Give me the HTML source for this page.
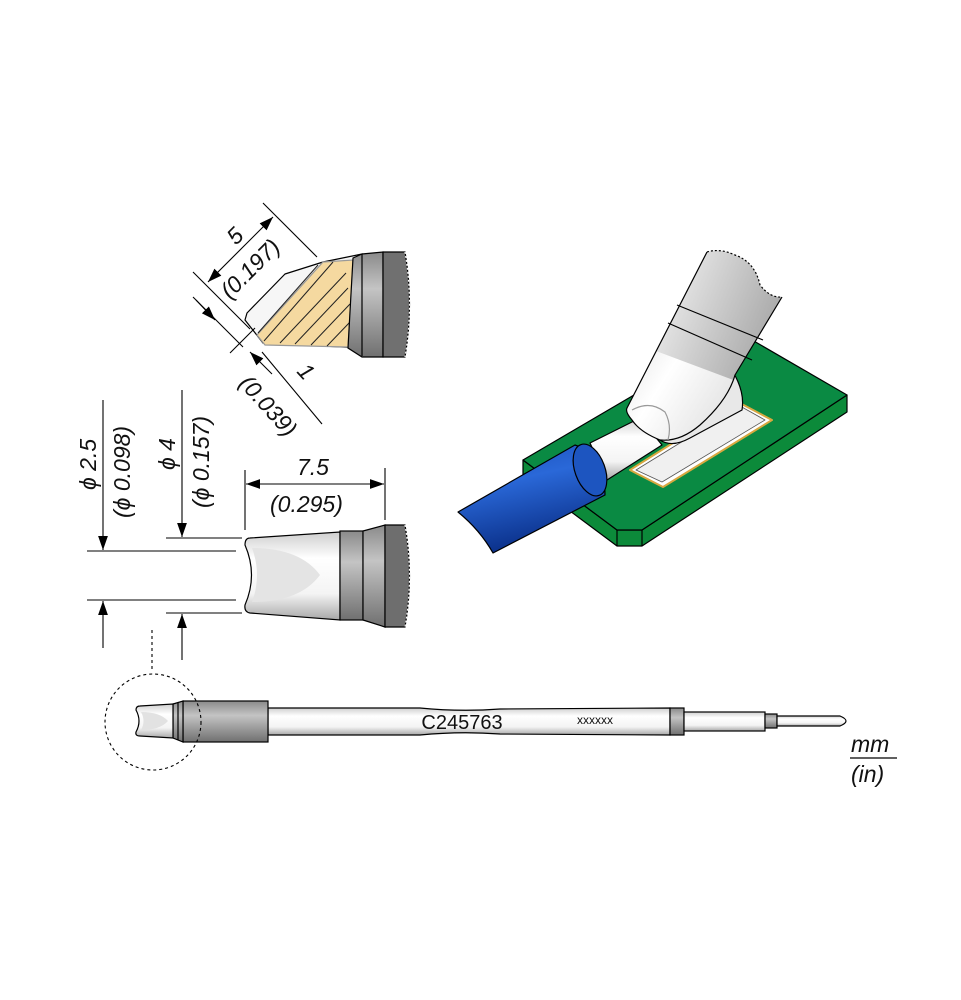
<!DOCTYPE html>
<html><head><meta charset="utf-8"><style>
html,body{margin:0;padding:0;background:#fff}
svg{display:block}
text{font-family:"Liberation Sans",sans-serif}
.dim{font-style:italic;font-size:23px;fill:#111}
</style></head><body>
<svg width="961" height="1000" viewBox="0 0 961 1000" xmlns="http://www.w3.org/2000/svg">
<defs>
<linearGradient id="gv" x1="0" y1="0" x2="0" y2="1">
<stop offset="0" stop-color="#8a8a8a"/><stop offset="0.35" stop-color="#c4c4c4"/><stop offset="1" stop-color="#707070"/></linearGradient>
<linearGradient id="wv" x1="0" y1="0" x2="0" y2="1">
<stop offset="0" stop-color="#cfcfcf"/><stop offset="0.3" stop-color="#fff"/><stop offset="0.7" stop-color="#f4f4f4"/><stop offset="1" stop-color="#a8a8a8"/></linearGradient>
<linearGradient id="bl" x1="0" y1="0" x2="0.3" y2="1">
<stop offset="0" stop-color="#1a4fb8"/><stop offset="0.4" stop-color="#2a68d8"/><stop offset="1" stop-color="#0a2f88"/></linearGradient>
<linearGradient id="tg" x1="0" y1="0" x2="1" y2="0.45">
<stop offset="0" stop-color="#8a8a8a"/><stop offset="0.4" stop-color="#e4e4e4"/><stop offset="1" stop-color="#9a9a9a"/></linearGradient>
<linearGradient id="tw" x1="0" y1="0" x2="1" y2="0.45">
<stop offset="0" stop-color="#d8d8d8"/><stop offset="0.4" stop-color="#ffffff"/><stop offset="1" stop-color="#d0d0d0"/></linearGradient>
<clipPath id="ic"><path d="M707,252 Q720,248 735,255 Q755,262 760,285 Q770,298 782,297 L735,375 Q728,400 700,425 Q680,442 660,440 Q640,432 632,420 Q625,412 627,408 Z"/></clipPath>
<marker id="a" viewBox="0 0 10 10" refX="10" refY="5" markerWidth="14" markerHeight="14" markerUnits="userSpaceOnUse" orient="auto-start-reverse"><path d="M0,1.5 L10,5 L0,8.5z" fill="#000"/></marker>
</defs>

<!-- ===== top tip ===== -->
<g stroke="#000" stroke-width="1.2">
<path d="M285,274 L323,262 L362,254 L362,348 L263,343 L245,320 L247,313 Z" fill="#f6f6f6"/>
<path d="M323,262 L353,260 L348,347 L265,345 L257,335 Z" fill="#f5d9a0" stroke="#999"/>
<g stroke="#222" stroke-width="1">
<line x1="280" y1="343" x2="346" y2="273"/><line x1="295" y1="344" x2="348" y2="288"/>
<line x1="311" y1="345" x2="350" y2="304"/><line x1="327" y1="346" x2="350" y2="322"/>
<line x1="264" y1="341" x2="333" y2="262"/><line x1="258" y1="333" x2="318" y2="265"/>
</g>
<path d="M353,258 L362,254 L383,252 L383,357 L362,357 L348,348 Z" fill="url(#gv)"/>
<line x1="362" y1="254" x2="362" y2="356"/>
<path d="M383,252 L405,252 Q414,304 405,357 L383,357 Z" fill="#707070"/>
<path d="M405,252 Q414,304 405,357" fill="none" stroke="#fff" stroke-dasharray="2 2"/>
</g>
<g stroke="#000" stroke-width="1.1" fill="none">
<line x1="263" y1="203" x2="317" y2="257"/>
<line x1="193" y1="272" x2="250" y2="329"/>
<line x1="208" y1="282" x2="273" y2="217" marker-start="url(#a)" marker-end="url(#a)"/>
<line x1="193" y1="297" x2="243" y2="347"/>
<line x1="230" y1="353" x2="255" y2="328"/>
<line x1="196" y1="300" x2="215" y2="320" marker-end="url(#a)"/>
<line x1="272" y1="374" x2="250" y2="352" marker-end="url(#a)"/>
<line x1="262" y1="352" x2="322" y2="424"/>
</g>
<text class="dim" transform="translate(236,246) rotate(-45)">5</text>
<text class="dim" transform="translate(230,300) rotate(-45)">(0.197)</text>
<text class="dim" transform="translate(296,372) rotate(48)">1</text>
<text class="dim" transform="translate(238,384) rotate(48)">(0.039)</text>

<!-- ===== middle tip ===== -->
<g stroke="#000" stroke-width="1.2">
<path d="M250,538 L340,532 L340,620 L250,613 Q244,612 245,605 Q258,575 245,545 Q245,538 250,538 Z" fill="url(#wv)"/>
<path d="M252,548 Q300,548 320,575 Q300,602 252,602 Q262,575 252,548Z" fill="#e4e4e4" stroke="none"/>
<rect x="340" y="531" width="23" height="89" fill="url(#gv)"/>
<path d="M363,531 L385,525 L385,627 L363,620 Z" fill="url(#gv)"/>
<path d="M385,525 L405,525 Q414,576 405,627 L385,627 Z" fill="#6e6e6e"/>
<path d="M405,525 Q414,576 405,627" fill="none" stroke="#fff" stroke-dasharray="2 2"/>
</g>
<g stroke="#000" stroke-width="1.1">
<line x1="103" y1="400" x2="103" y2="550" marker-end="url(#a)"/>
<line x1="103" y1="648" x2="103" y2="601" marker-end="url(#a)"/>
<line x1="87" y1="551" x2="236" y2="551"/><line x1="87" y1="600" x2="236" y2="600"/>
<line x1="182" y1="390" x2="182" y2="537" marker-end="url(#a)"/>
<line x1="182" y1="660" x2="182" y2="614" marker-end="url(#a)"/>
<line x1="166" y1="538" x2="242" y2="538"/><line x1="166" y1="613" x2="242" y2="613"/>
<line x1="245" y1="470" x2="245" y2="530"/><line x1="385" y1="468" x2="385" y2="520"/>
<line x1="246" y1="484" x2="384" y2="484" marker-start="url(#a)" marker-end="url(#a)"/>
<line x1="152" y1="630" x2="152" y2="672" stroke-dasharray="3 3"/>
</g>
<text class="dim" transform="translate(96,490) rotate(-90)">ϕ 2.5</text>
<text class="dim" transform="translate(130,518) rotate(-90)">(ϕ 0.098)</text>
<text class="dim" transform="translate(175,470) rotate(-90)">ϕ 4</text>
<text class="dim" transform="translate(209,508) rotate(-90)">(ϕ 0.157)</text>
<text class="dim" x="297" y="475">7.5</text>
<text class="dim" x="270" y="512">(0.295)</text>

<!-- ===== right illustration ===== -->
<g stroke="#000" stroke-width="1.2" stroke-linejoin="round">
<path d="M523,460 L523,476 L617,546 L642,546 L847,412 L847,395 L642,530 L617,530 Z" fill="#0c8a3a"/>
<path d="M523,460 L740,333 L847,395 L642,530 L617,530 Z" fill="#0a8a43"/>
<line x1="617" y1="530" x2="617" y2="546"/><line x1="642" y1="530" x2="642" y2="546"/>
<path d="M630,470 L663,487 L772,420 L738,402 Z" fill="#fff" stroke="#d8a840" stroke-width="2"/>
<path d="M636,470 L662,482 L765,420 L740,406 Z" fill="#f0f0f0" stroke="#555" stroke-width="0.8"/>
<path d="M590,443 L640,418 L662,445 L607,480 Z" fill="url(#wv)"/>
<path d="M655,420 L733,372 Q745,392 742,410 L690,438 Q672,448 660,440 Z" fill="#e8e8e8"/>
<g clip-path="url(#ic)">
<rect x="600" y="240" width="200" height="220" fill="url(#tg)" stroke="none"/>
<path d="M600,330 L800,405 L800,470 L600,470 Z" fill="url(#tw)" stroke="none"/>
</g>
<path d="M782,297 L735,375 Q728,400 700,425 Q680,442 660,440 Q640,432 632,420 Q625,412 627,408 L707,252" fill="none"/>
<path d="M632,410 Q650,400 665,412 Q672,425 668,440" fill="none" stroke="#999"/>
<line x1="677" y1="305" x2="763" y2="340"/><line x1="668" y1="323" x2="752" y2="360"/>
<path d="M707,252 Q720,248 735,255 Q755,262 760,285 Q770,298 782,297" fill="none" stroke="#000" stroke-dasharray="2 2"/>
<path d="M458,512 L575,445 Q605,455 605,495 L493,553 Q480,530 458,512 Z" fill="url(#bl)"/>
<ellipse cx="590" cy="470" rx="15" ry="27" transform="rotate(-20 590 470)" fill="#1d55c0"/>
</g>

<!-- ===== bottom tool ===== -->
<g stroke="#000" stroke-width="1.2">
<path d="M268,708 L420,708 Q460,712 500,709 L670,708 L670,735 L500,734 Q460,731 420,735 L268,735 Z" fill="url(#wv)"/>
<rect x="670" y="708" width="14" height="27" fill="url(#gv)"/>
<rect x="684" y="712" width="81" height="19" fill="url(#wv)"/>
<rect x="765" y="714" width="12" height="14" fill="url(#gv)"/>
<path d="M777,716 L840,716 Q852,721 840,726 L777,726 Z" fill="url(#wv)"/>
<rect x="183" y="701" width="85" height="41" fill="url(#gv)"/>
<path d="M173,704 L183,701 L183,742 L173,738 Z" fill="url(#gv)"/>
<path d="M140,706 L173,704 L173,738 L140,736 Q135,736 136,732 Q142,721 136,710 Q136,706 140,706Z" fill="url(#wv)"/>
<path d="M141,712 Q160,712 168,721 Q160,730 141,730 Q146,721 141,712Z" fill="#e2e2e2" stroke="none"/>
<line x1="178" y1="703" x2="178" y2="740"/>
</g>
<circle cx="153" cy="722" r="48" fill="none" stroke="#000" stroke-width="1.1" stroke-dasharray="3 3"/>
<text x="462" y="729" text-anchor="middle" font-size="20" fill="#111">C245763</text>
<text x="595" y="724" text-anchor="middle" font-size="12" fill="#111">xxxxxx</text>

<text class="dim" x="851" y="752">mm</text>
<line x1="850" y1="758" x2="897" y2="758" stroke="#000" stroke-width="1.2"/>
<text class="dim" x="851" y="782">(in)</text>
</svg>
</body></html>
